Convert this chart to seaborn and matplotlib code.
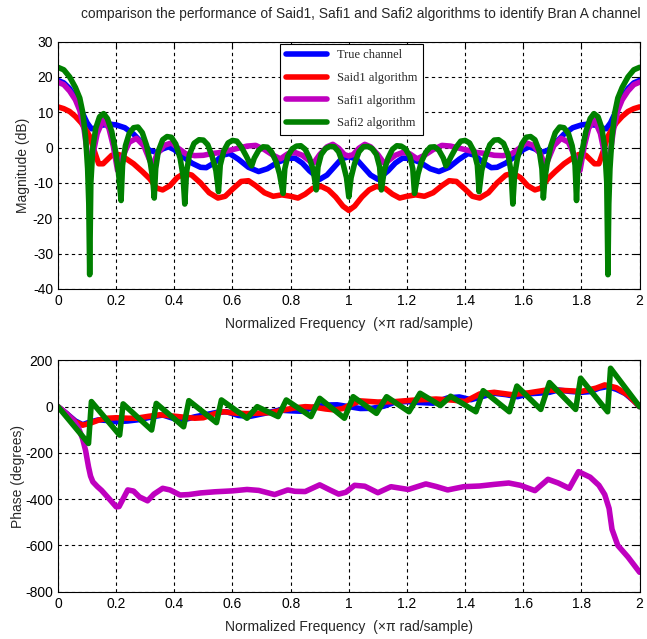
import matplotlib
matplotlib.use("Agg")
import matplotlib.pyplot as plt
import seaborn as sns

# ---------------- magnitude (dB) ----------------
true_mag_f = [0.00, 0.02, 0.04, 0.06, 0.08, 0.10, 0.115, 0.13, 0.15, 0.18, 0.20, 0.23, 0.26, 0.29, 0.315,
              0.34, 0.36, 0.38, 0.40, 0.43, 0.46, 0.49, 0.51, 0.54, 0.565, 0.59, 0.62, 0.655, 0.69, 0.72,
              0.755, 0.79, 0.815, 0.84, 0.865, 0.90, 0.925, 0.95, 0.975, 1.00,
              1.025, 1.05, 1.075, 1.10, 1.135, 1.16, 1.185, 1.21, 1.245, 1.28, 1.31, 1.345, 1.38, 1.41,
              1.435, 1.46, 1.49, 1.51, 1.54, 1.57, 1.60, 1.62, 1.64, 1.66, 1.685, 1.71, 1.74, 1.77, 1.80,
              1.82, 1.85, 1.87, 1.885, 1.90, 1.92, 1.94, 1.96, 1.98, 2.00]
true_mag = [19.0, 18.3, 16.7, 14.0, 10.5, 7.0, 5.3, 5.5, 6.3, 6.6, 6.4, 5.6, 3.8, 1.2, -0.8,
            -1.4, -0.4, 0.2, -0.6, -2.6, -4.4, -5.6, -5.7, -4.2, -2.2, -1.7, -3.3, -5.6, -6.8, -6.0,
            -4.2, -3.1, -3.0, -4.4, -6.6, -9.0, -7.8, -5.5, -3.2, -2.6,
            -3.2, -5.5, -7.8, -9.0, -6.6, -4.4, -3.0, -3.1, -4.2, -6.0, -6.8, -5.6, -3.3, -1.7,
            -2.2, -4.2, -5.7, -5.6, -4.4, -2.6, -0.6, 0.2, -0.4, -1.4, -0.8, 1.2, 3.8, 5.6, 6.4,
            6.6, 6.3, 5.5, 5.3, 7.0, 10.5, 14.0, 16.7, 18.3, 19.0]

said1_mag_f = [0.00, 0.02, 0.04, 0.06, 0.08, 0.10, 0.11, 0.125, 0.14, 0.155, 0.185, 0.21, 0.235, 0.26,
               0.29, 0.315, 0.34, 0.36, 0.385, 0.41, 0.435, 0.46, 0.49, 0.52, 0.55, 0.575, 0.60, 0.63,
               0.655, 0.68, 0.71, 0.74, 0.77, 0.80, 0.825, 0.85, 0.875, 0.905, 0.93, 0.955, 0.98, 1.00,
               1.02, 1.045, 1.07, 1.095, 1.125, 1.15, 1.175, 1.20, 1.23, 1.26, 1.29, 1.32, 1.345, 1.37,
               1.40, 1.425, 1.45, 1.48, 1.51, 1.54, 1.565, 1.59, 1.615, 1.64, 1.66, 1.685, 1.71, 1.74,
               1.765, 1.79, 1.815, 1.845, 1.86, 1.875, 1.89, 1.90, 1.92, 1.94, 1.96, 1.98, 2.00]
said1_mag = [11.5, 11.0, 10.2, 8.8, 7.0, 4.5, 3.0, -1.0, -4.6, -4.6, -2.2, -2.0, -3.2, -4.6,
             -6.8, -8.8, -11.5, -12.0, -10.8, -8.5, -7.3, -7.8, -10.0, -12.8, -14.3, -13.8, -11.8, -9.6,
             -9.4, -10.8, -12.8, -13.8, -13.4, -13.8, -14.3, -13.2, -11.6, -11.0, -12.0, -14.0, -16.6, -17.8,
             -16.6, -14.0, -12.0, -11.0, -11.6, -13.2, -14.3, -13.8, -13.4, -13.8, -12.8, -10.8, -9.4, -9.6,
             -11.8, -13.8, -14.3, -12.8, -10.0, -7.8, -7.3, -8.5, -10.8, -12.0, -11.5, -8.8, -6.8, -4.6,
             -3.2, -2.0, -2.2, -4.6, -4.6, -1.0, 3.0, 4.5, 7.0, 8.8, 10.2, 11.0, 11.5]

safi1_mag_f = [0.00, 0.02, 0.04, 0.06, 0.075, 0.09, 0.10, 0.11, 0.12, 0.135, 0.155, 0.175, 0.19, 0.205,
               0.22, 0.245, 0.27, 0.295, 0.315, 0.325, 0.34, 0.365, 0.39, 0.415, 0.44, 0.47, 0.50, 0.53,
               0.56, 0.59, 0.62, 0.65, 0.68, 0.71, 0.74, 0.765, 0.79, 0.815, 0.84, 0.865, 0.88, 0.90,
               0.925, 0.945, 0.965, 0.985, 1.00,
               1.015, 1.035, 1.055, 1.075, 1.10, 1.12, 1.135, 1.16, 1.185, 1.21, 1.235, 1.26, 1.29,
               1.32, 1.35, 1.38, 1.41, 1.44, 1.47, 1.50, 1.53, 1.56, 1.585, 1.61, 1.635, 1.66, 1.675,
               1.685, 1.705, 1.73, 1.755, 1.78, 1.795, 1.81, 1.825, 1.845, 1.865, 1.88, 1.89, 1.90,
               1.91, 1.925, 1.94, 1.96, 1.98, 2.00]
safi1_mag = [18.5, 17.8, 16.0, 13.5, 10.5, 5.0, -1.0, -4.2, -2.0, 4.0, 7.8, 5.5, 0.5, -6.5,
             -3.0, 1.5, 2.6, 0.5, -3.5, -5.2, -2.0, 0.6, 1.3, -0.3, -1.8, -2.3, -2.2, -1.7,
             -1.4, -0.8, -0.2, 0.4, 0.6, -0.6, -2.2, -3.2, -1.8, -1.4, -2.2, -3.8, -4.3, -2.0,
             0.2, 0.9, -0.2, -2.0, -2.4,
             -2.0, -0.2, 0.9, 0.2, -2.0, -4.3, -3.8, -2.2, -1.4, -1.8, -3.2, -2.2, -0.6,
             0.6, 0.4, -0.2, -0.8, -1.4, -1.7, -2.2, -2.3, -1.8, -0.3, 1.3, 0.6, -2.0, -5.2,
             -3.5, 0.5, 2.6, 1.5, -3.0, -6.5, 0.5, 5.5, 7.8, 4.0, -2.0, -4.2, -1.0,
             5.0, 10.5, 13.5, 16.0, 17.8, 18.5]

safi2_mag_f = [0.00, 0.02, 0.04, 0.06, 0.075, 0.085, 0.095, 0.102, 0.106, 0.109,
               0.113, 0.12, 0.13, 0.143, 0.157, 0.17, 0.185, 0.198, 0.208, 0.217,
               0.222, 0.232, 0.245, 0.26, 0.275, 0.29, 0.305, 0.318, 0.326, 0.331,
               0.336, 0.345, 0.36, 0.375, 0.39, 0.405, 0.42, 0.43, 0.436,
               0.442, 0.452, 0.468, 0.485, 0.50, 0.515, 0.53, 0.543, 0.552,
               0.558, 0.57, 0.585, 0.60, 0.615, 0.63, 0.648, 0.66, 0.666,
               0.675, 0.69, 0.705, 0.72, 0.735, 0.75, 0.762, 0.774,
               0.78, 0.79, 0.805, 0.82, 0.835, 0.85, 0.865, 0.878, 0.888,
               0.894, 0.905, 0.92, 0.935, 0.95, 0.965, 0.98, 0.992, 1.00,
               1.008, 1.02, 1.035, 1.05, 1.065, 1.08, 1.095, 1.106, 1.112,
               1.122, 1.135, 1.15, 1.165, 1.18, 1.195, 1.21, 1.22, 1.226,
               1.238, 1.25, 1.265, 1.28, 1.295, 1.31, 1.325, 1.334,
               1.34, 1.352, 1.37, 1.385, 1.40, 1.415, 1.43, 1.442, 1.448,
               1.457, 1.47, 1.485, 1.50, 1.515, 1.532, 1.548, 1.558, 1.564,
               1.57, 1.58, 1.595, 1.61, 1.625, 1.64, 1.655, 1.664, 1.669,
               1.674, 1.682, 1.695, 1.71, 1.725, 1.74, 1.755, 1.768, 1.778, 1.783,
               1.787, 1.802, 1.815, 1.83, 1.843, 1.857, 1.87, 1.88, 1.887, 1.891,
               1.894, 1.898, 1.905, 1.915, 1.925, 1.94, 1.96, 1.98, 2.00]
safi2_mag = [22.7, 22.0, 20.0, 17.0, 14.0, 10.0, 3.0, -6.0, -16.0, -36.0,
             -10.0, 0.0, 5.5, 8.7, 9.6, 8.2, 4.5, -1.0, -7.0, -15.0,
             -5.0, 0.5, 4.0, 5.6, 5.8, 4.2, 0.5, -4.5, -9.0, -14.3,
             -6.0, -1.0, 2.2, 3.1, 2.9, 1.0, -3.0, -8.0, -16.0,
             -7.0, -2.0, 1.2, 2.2, 2.1, 0.8, -2.5, -6.5, -12.5,
             -5.0, -1.0, 1.3, 2.0, 1.8, 0.2, -2.5, -4.5, -5.2,
             -3.0, -0.8, 0.2, 0.1, -1.3, -4.0, -7.5, -13.0,
             -6.0, -2.5, -0.4, 0.4, 0.5, -0.5, -3.0, -6.5, -12.0,
             -5.5, -2.0, -0.3, 0.3, 0.2, -1.2, -4.5, -8.5, -14.0,
             -8.5, -4.5, -1.2, 0.2, 0.3, -0.3, -2.0, -5.5, -12.0,
             -6.5, -3.0, -0.5, 0.5, 0.4, -0.4, -2.5, -6.0, -13.0,
             -7.5, -4.0, -1.3, 0.1, 0.2, -0.8, -3.0, -5.2,
             -4.5, -2.5, 0.2, 1.8, 2.0, 1.3, -1.0, -5.0, -12.5,
             -6.5, -2.5, 0.8, 2.1, 2.2, 1.2, -2.0, -7.0, -16.0,
             -8.0, -3.0, 1.0, 2.9, 3.1, 2.2, -1.0, -6.0, -14.3,
             -9.0, -4.5, 0.5, 4.2, 5.8, 5.6, 4.0, 0.5, -5.0, -15.0,
             -7.0, -1.0, 4.5, 8.2, 9.6, 8.7, 5.5, 0.0, -10.0, -36.0,
             -16.0, -6.0, 3.0, 10.0, 14.0, 17.0, 20.0, 22.0, 22.7]

# ---------------- phase (degrees) ----------------
true_ph_f = [0.00, 0.03, 0.06, 0.085, 0.11, 0.14, 0.17, 0.20, 0.24, 0.28, 0.32, 0.36, 0.40, 0.43, 0.47,
             0.51, 0.55, 0.58, 0.62, 0.66, 0.71, 0.76, 0.80, 0.84, 0.88, 0.92, 0.96, 1.00,
             1.04, 1.08, 1.12, 1.16, 1.20, 1.24, 1.29, 1.34, 1.38, 1.42, 1.46, 1.50, 1.54, 1.58,
             1.62, 1.65, 1.69, 1.72, 1.76, 1.80, 1.83, 1.86, 1.89, 1.92, 1.95, 1.98, 2.00]
true_ph = [0, -30, -62, -78, -66, -57, -60, -65, -62, -56, -45, -36, -52, -58, -44,
           -34, -24, -22, -38, -42, -29, -15, -18, -20, -2, 7, 8, 0,
           -8, -7, 2, 20, 22, 18, 15, 38, 42, 30, 44, 58, 52, 43,
           56, 58, 62, 72, 66, 62, 65, 80, 87, 75, 57, 25, 0]

said1_ph_f = [0.00, 0.03, 0.06, 0.085, 0.11, 0.14, 0.17, 0.20, 0.24, 0.27, 0.31, 0.35, 0.39, 0.43, 0.47,
              0.50, 0.54, 0.57, 0.61, 0.65, 0.69, 0.73, 0.77, 0.81, 0.85, 0.88, 0.92, 0.95, 0.98, 1.00,
              1.04, 1.10, 1.16, 1.22, 1.30, 1.36, 1.40, 1.45, 1.50, 1.56, 1.62, 1.68, 1.74, 1.80,
              1.85, 1.88, 1.92, 1.96, 2.00]
said1_ph = [0, -32, -66, -80, -72, -58, -50, -48, -50, -50, -42, -35, -40, -45, -50,
            -48, -30, -22, -28, -30, -28, -26, -16, -6, 0, -2, -10, -14, -8, 5,
            25, 20, 22, 28, 33, 28, 22, 55, 62, 52, 60, 72, 70, 66,
            80, 94, 82, 50, 0]

safi1_ph_f = [0.00, 0.03, 0.055, 0.07, 0.085, 0.095, 0.105, 0.112, 0.12, 0.135, 0.15, 0.175, 0.20, 0.21,
              0.24, 0.26, 0.28, 0.308, 0.33, 0.36, 0.385, 0.42, 0.45, 0.49, 0.54, 0.60, 0.65, 0.69,
              0.745, 0.79, 0.815, 0.85, 0.90, 0.935, 0.965, 0.99, 1.02, 1.055, 1.10, 1.145, 1.205,
              1.265, 1.30, 1.34, 1.395, 1.45, 1.50, 1.55, 1.59, 1.64, 1.685, 1.72, 1.758, 1.79, 1.83,
              1.86, 1.88, 1.895, 1.905, 1.925, 1.96, 2.00]
safi1_ph = [0, -30, -62, -90, -140, -190, -260, -300, -325, -345, -362, -397, -433, -432,
            -360, -365, -390, -407, -378, -353, -360, -382, -380, -373, -368, -364, -358, -362,
            -380, -360, -366, -367, -338, -360, -378, -370, -340, -344, -372, -346, -358,
            -334, -345, -360, -346, -343, -336, -330, -340, -363, -314, -330, -353, -281, -305,
            -340, -380, -440, -530, -600, -650, -716]

safi2_ph_f = [0.000, 0.105, 0.115, 0.212, 0.224, 0.322, 0.338, 0.432, 0.450, 0.545, 0.562, 0.650,
              0.685, 0.757, 0.785, 0.870, 0.900, 0.985, 1.015, 1.095, 1.130, 1.207, 1.245, 1.315,
              1.350, 1.437, 1.462, 1.552, 1.578, 1.660, 1.690, 1.780, 1.797, 1.890, 1.900, 2.000]
safi2_ph = [0, -159, 22, -123, 12, -101, 14, -87, 26, -69, 29, -50,
            0, -43, 29, -43, 36, -50, 43, -29, 43, -22, 58, 5,
            45, -22, 69, -22, 89, -12, 104, -12, 123, -22, 166, 0]

labels = ["True channel", "Said1 algorithm", "Safi1 algorithm", "Safi2 algorithm"]
colors = ["#0000FF", "#FF0000", "#BF00BF", "#008000"]
freq_ticks = [0, 0.2, 0.4, 0.6, 0.8, 1, 1.2, 1.4, 1.6, 1.8, 2]
freq_labels = ["0", "0.2", "0.4", "0.6", "0.8", "1", "1.2", "1.4", "1.6", "1.8", "2"]

sns.set_style("white")
plt.rcParams["font.family"] = ["Liberation Sans", "DejaVu Sans"]
plt.rcParams["axes.unicode_minus"] = False

fig = plt.figure(figsize=(6.47, 6.39), dpi=100)
ax1 = fig.add_axes([0.0896, 0.548, 0.899, 0.387])
ax2 = fig.add_axes([0.0896, 0.074, 0.899, 0.362])

mag_sets = [(true_mag_f, true_mag), (said1_mag_f, said1_mag), (safi1_mag_f, safi1_mag), (safi2_mag_f, safi2_mag)]
ph_sets = [(true_ph_f, true_ph), (said1_ph_f, said1_ph), (safi1_ph_f, safi1_ph), (safi2_ph_f, safi2_ph)]

for (f, v), lab, c in zip(mag_sets, labels, colors):
    sns.lineplot(x=f, y=v, ax=ax1, color=c, linewidth=4, label=lab, sort=False, estimator=None)
for (f, v), c in zip(ph_sets, colors):
    sns.lineplot(x=f, y=v, ax=ax2, color=c, linewidth=4, sort=False, estimator=None)

for ax in (ax1, ax2):
    ax.set_xlim(0, 2)
    ax.set_xticks(freq_ticks)
    ax.set_xticklabels(freq_labels)
    ax.grid(True, color="black", linestyle=(0, (3, 3)), linewidth=0.8)
    ax.tick_params(direction="in", length=4, labelsize=10, top=True, right=True, colors="black")
    for s in ax.spines.values():
        s.set_color("black")
        s.set_linewidth(0.8)
    ax.set_xlabel("Normalized Frequency  (\u00d7\u03c0 rad/sample)", fontsize=10, labelpad=7)

ax1.set_ylim(-40, 30)
ax1.set_yticks(range(-40, 31, 10))
ax1.set_ylabel("Magnitude (dB)", fontsize=10, labelpad=2)
ax2.set_ylim(-800, 200)
ax2.set_yticks(range(-800, 201, 200))
ax2.set_ylabel("Phase (degrees)", fontsize=10, labelpad=0)

# title sits a little right of the axes centre, as in the original
fig.text(0.558, 0.978, "comparison the performance of Said1, Safi1 and Safi2 algorithms to identify Bran A channel",
         fontsize=9.9, ha="center", va="center")

leg = ax1.legend(loc="upper left", bbox_to_anchor=(0.382, 0.991), borderaxespad=0, frameon=True,
                 fancybox=False, edgecolor="black", framealpha=1, handlelength=3.3, labelspacing=0.85,
                 borderpad=0.45, prop={"family": "Liberation Serif", "size": 9})
leg.get_frame().set_linewidth(0.8)

fig.savefig("out.png", dpi=100)
